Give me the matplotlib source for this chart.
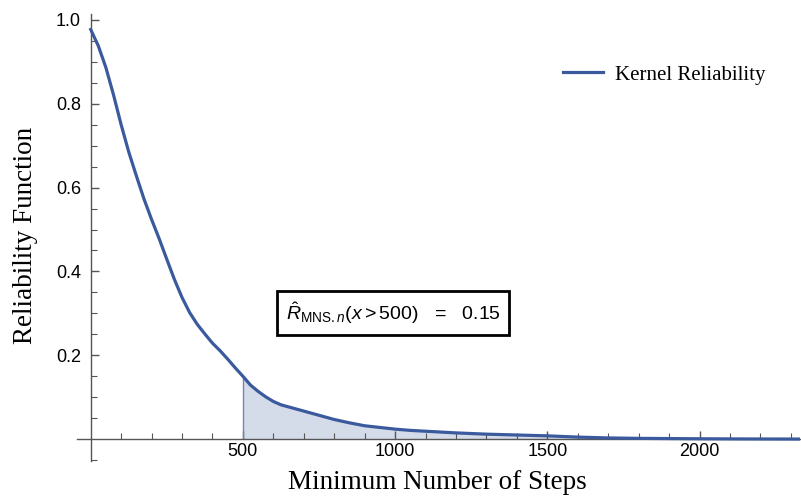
import numpy as np
import matplotlib
matplotlib.use("Agg")
import matplotlib.pyplot as plt
from matplotlib.ticker import FixedLocator

plt.rcParams['mathtext.fontset'] = 'custom'
plt.rcParams['mathtext.rm'] = 'Liberation Sans'
plt.rcParams['mathtext.it'] = 'Liberation Sans:italic'
plt.rcParams['mathtext.bf'] = 'Liberation Sans:bold'

# Kernel estimate of the reliability function
steps = [0, 25, 50, 75, 100, 125, 150, 175, 200, 225, 250, 275, 300, 325, 350,
         375, 400, 425, 450, 475, 500, 525, 550, 575, 600, 625, 650, 700, 750,
         800, 850, 900, 950, 1000, 1050, 1100, 1150, 1200, 1300, 1400, 1500,
         1600, 1700, 1800, 1900, 2000, 2100, 2200, 2330]
reliability = [0.977, 0.938, 0.886, 0.821, 0.750, 0.685, 0.628, 0.573, 0.524,
               0.478, 0.429, 0.381, 0.338, 0.302, 0.274, 0.251, 0.229, 0.211,
               0.191, 0.170, 0.150, 0.129, 0.114, 0.101, 0.090, 0.082, 0.077,
               0.067, 0.057, 0.047, 0.039, 0.032, 0.028, 0.024, 0.021, 0.019,
               0.017, 0.015, 0.012, 0.010, 0.008, 0.005, 0.003, 0.002, 0.0015,
               0.001, 0.0007, 0.0005, 0.0003]
threshold = 500
estimate = 0.15

x = np.array(steps, dtype=float)
y = np.array(reliability, dtype=float)

line_color = '#3b5a9d'
fill_color = '#d5dce9'

fig = plt.figure(figsize=(8.01, 4.98), dpi=100)
W, H = 801, 498
ax = fig.add_axes([77 / W, (H - 461) / H, (800 - 77) / W, (461 - 14) / H])
ax.set_xlim(-45, 2330)
ax.set_ylim(-0.052, 1.014)

mask = x >= threshold
ax.fill_between(x[mask], 0, y[mask], color=fill_color, linewidth=0, zorder=1)
ax.vlines(threshold, 0, estimate, color='#6f88bb', linewidth=1.0, zorder=2)
ax.plot(x, y, color=line_color, linewidth=2.3, solid_joinstyle='round',
        label='Kernel Reliability', zorder=3)

for side in ('top', 'right'):
    ax.spines[side].set_visible(False)
ax.spines['left'].set_position(('data', 0))
ax.spines['bottom'].set_position(('data', 0))
for side in ('left', 'bottom'):
    ax.spines[side].set_color('#555555')
    ax.spines[side].set_linewidth(1.0)

ax.xaxis.set_major_locator(FixedLocator([500, 1000, 1500, 2000]))
ax.xaxis.set_minor_locator(FixedLocator([v for v in range(100, 2400, 100) if v % 500]))
ax.yaxis.set_major_locator(FixedLocator([0.2, 0.4, 0.6, 0.8, 1.0]))
ax.yaxis.set_minor_locator(FixedLocator([-0.05, 0.05, 0.1, 0.15, 0.25, 0.3, 0.35, 0.45,
                                         0.5, 0.55, 0.65, 0.7, 0.75, 0.85, 0.9, 0.95]))
ax.tick_params(which='major', direction='in', length=6, width=1.0, color='#555555',
               labelsize=13)
ax.tick_params(which='minor', direction='in', length=4, width=0.8, color='#555555')
ax.tick_params(axis='x', which='major', pad=3)
ax.tick_params(axis='y', which='major', pad=7)
ax.set_xticklabels(['500', '1000', '1500', '2000'], family='Liberation Sans')
ax.set_yticklabels(['0.2', '0.4', '0.6', '0.8', '1.0'], family='Liberation Sans')

fig.text(437 / W, 1 - 482 / H, 'Minimum Number of Steps', family='Liberation Serif',
         fontsize=19.5, ha='center', va='center')
fig.text(26 / W, 1 - 235 / H, 'Reliability Function', family='Liberation Serif',
         fontsize=19.5, ha='center', va='center', rotation=90)

ax.legend(loc='center left', bbox_to_anchor=(563 / W, 1 - 75 / H),
          bbox_transform=fig.transFigure, frameon=False, borderaxespad=0,
          borderpad=0, prop={'family': 'Liberation Serif', 'size': 15},
          handlelength=1.92, handletextpad=0.58)

fig.text(393 / W, 1 - 313 / H,
         r'$\hat{R}_{\mathrm{MNS}.n}(x > 500)$   =   ' + f'{estimate:.2f}',
         family='Liberation Sans', fontsize=14, ha='center', va='center',
         bbox=dict(boxstyle='square,pad=0.45', facecolor='white', edgecolor='black',
                   linewidth=2.0))

fig.savefig('out.png', dpi=100)
